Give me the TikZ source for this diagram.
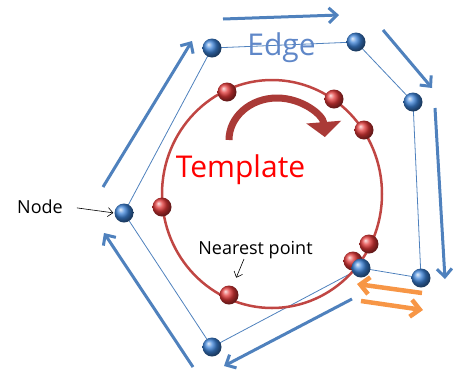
\documentclass[tikz,border=0pt]{standalone}
\usepackage{fontspec}
\setmainfont{Open Sans}
\usetikzlibrary{arrows.meta}
\definecolor{edgeblue}{RGB}{79,129,189}
\definecolor{textblue}{RGB}{95,135,200}
\definecolor{tred}{RGB}{192,70,67}
\definecolor{darkred}{RGB}{170,58,55}
\definecolor{orangeA}{RGB}{247,150,70}
\definecolor{ballblue}{RGB}{60,130,215}
\definecolor{ballred}{RGB}{225,55,55}
\begin{document}
\begin{tikzpicture}[x=1pt,y=-1pt,
  bnode/.style={circle, inner sep=0pt, minimum size=19pt, ball color=ballblue},
  rnode/.style={circle, inner sep=0pt, minimum size=19pt, ball color=ballred},
  polyline/.style={draw=edgeblue, line width=0.8pt},
  dirarrow/.style={draw=edgeblue, line width=3pt, -{Straight Barb[length=8pt,width=15pt]}},
  orarrow/.style={draw=orangeA, line width=4.5pt, -{Straight Barb[length=9pt,width=17pt]}},
  thinarrow/.style={draw=black, line width=0.6pt, -{Straight Barb[length=5pt,width=9pt]}},
  lbl/.style={anchor=base, inner sep=2pt}]
\useasboundingbox (0,0) rectangle (453,373);

% polygon coordinates
\coordinate (c1) at (212,48);
\coordinate (c2) at (356,42);
\coordinate (c3) at (413,102);
\coordinate (c4) at (421,278);
\coordinate (c5) at (361,268);
\coordinate (c6) at (212,347);
\coordinate (c7) at (124,213);
\draw[polyline] (c1) -- (c2) -- (c3) -- (c4) -- (c5) -- (c6) -- (c7) -- cycle;

% template curve
\coordinate (tc) at (272,194);
\draw[tred, line width=2.5pt] (tc) ellipse[x radius=110, y radius=114];

% red template points
\node[rnode] (r1) at (227,92) {};
\node[rnode] (r2) at (334,99) {};
\node[rnode] (r3) at (364,130) {};
\node[rnode] (r4) at (162,207) {};
\node[rnode] (r5) at (369,244) {};
\node[rnode] (r6) at (353,261) {};
\node[rnode] (r7) at (229,295) {};

% blue nodes
\node[bnode] (n1) at (c1) {};
\node[bnode] (n2) at (c2) {};
\node[bnode] (n3) at (c3) {};
\node[bnode] (n4) at (c4) {};
\node[bnode] (n5) at (c5) {};
\node[bnode] (n6) at (c6) {};
\node[bnode] (n7) at (c7) {};

% direction arrows
\draw[dirarrow] (223,19) -- (339,15);
\draw[dirarrow] (383,30) -- (432,88);
\draw[dirarrow] (435,108) -- (445,279);
\draw[dirarrow] (352,299) -- (224,366);
\draw[dirarrow] (193,367) -- (104,233);
\draw[dirarrow] (103,187) -- (192,41);

% orange arrows
\draw[orarrow] (422,293) -- (357,284);
\draw[orarrow] (361,301) -- (423,310);

% rotation arrow
\draw[darkred, line width=7pt, -{Triangle[length=15pt,width=34pt]}]
  (229,140) arc[start angle=180, end angle=356, x radius=48, y radius=42];

% labels
\node[lbl, text=textblue, font=\fontsize{30}{36}\selectfont] (edge) at (281.5,55) {Edge};
\node[lbl, text=red, font=\fontsize{30}{36}\selectfont] (tmpl) at (240.5,177) {Template};
\node[lbl, font=\fontsize{18}{22}\selectfont] (nodel) at (40,213) {Node};
\node[lbl, font=\fontsize{18}{22}\selectfont] (near) at (255.5,254) {Nearest point};

\coordinate (na) at (244,259);
\draw[thinarrow, shorten <=12pt, shorten >=1pt] (nodel.east) -- (n7.west);
\draw[thinarrow, shorten >=9pt] (na) -- (r7);
\end{tikzpicture}
\end{document}
